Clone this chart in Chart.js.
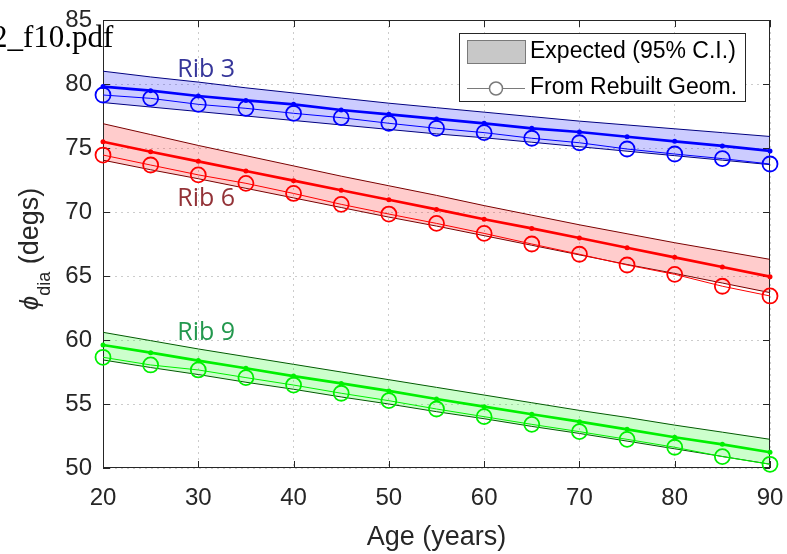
<!DOCTYPE html>
<html>
<head>
<meta charset="utf-8">
<script src="https://cdn.jsdelivr.net/npm/chart.js@4.4.1/dist/chart.umd.min.js"></script>
<style>
  html, body { margin: 0; padding: 0; background: #fff; }
  #wrap { position: relative; width: 787px; height: 554px; overflow: hidden; }
  #fname { position: absolute; left: -8px; top: 19px; font: 31px "Liberation Serif", "Times New Roman", serif; color: #000; white-space: nowrap; }
</style>
</head>
<body>
<div id="wrap">
  <canvas id="chart" width="787" height="554"></canvas>
  <div id="fname">2_f10.pdf</div>
</div>
<script>
// Age grid (years)
const ages = [20, 25, 30, 35, 40, 45, 50, 55, 60, 65, 70, 75, 80, 85, 90];

// Rib 3
const rib3Upper   = [81.0, 80.55, 80.15, 79.7, 79.3, 78.9, 78.5, 78.15, 77.8, 77.45, 77.1, 76.8, 76.5, 76.2, 75.9];
const rib3Lower   = [78.55, 78.2, 77.85, 77.5, 77.15, 76.8, 76.45, 76.1, 75.8, 75.45, 75.1, 74.75, 74.4, 74.05, 73.7];
const rib3Mean    = [79.8, 79.48, 79.06, 78.72, 78.41, 77.97, 77.63, 77.27, 76.93, 76.54, 76.25, 75.88, 75.52, 75.16, 74.77];
const rib3Rebuilt = [79.14, 78.88, 78.41, 78.1, 77.71, 77.37, 76.93, 76.54, 76.2, 75.76, 75.41, 74.92, 74.53, 74.17, 73.75];

// Rib 6
const rib6Upper   = [76.9, 76.05, 75.2, 74.4, 73.6, 72.8, 72.05, 71.3, 70.5, 69.75, 69.0, 68.3, 67.6, 66.95, 66.3];
const rib6Lower   = [74.05, 73.3, 72.6, 71.85, 71.1, 70.35, 69.6, 68.9, 68.15, 67.4, 66.65, 65.9, 65.2, 64.45, 63.7];
const rib6Mean    = [75.49, 74.71, 73.96, 73.2, 72.45, 71.7, 70.96, 70.2, 69.43, 68.72, 67.97, 67.21, 66.46, 65.7, 64.95];
const rib6Rebuilt = [74.45, 73.67, 72.9, 72.24, 71.45, 70.6, 69.84, 69.11, 68.33, 67.5, 66.7, 65.86, 65.13, 64.2, 63.44];

// Rib 9
const rib9Upper   = [60.6, 59.95, 59.3, 58.7, 58.1, 57.5, 56.9, 56.3, 55.7, 55.1, 54.5, 53.95, 53.35, 52.8, 52.24];
const rib9Lower   = [58.44, 57.85, 57.3, 56.7, 56.15, 55.55, 55.0, 54.4, 53.85, 53.25, 52.7, 52.1, 51.5, 50.9, 50.3];
const rib9Mean    = [59.61, 59.01, 58.39, 57.79, 57.18, 56.61, 56.02, 55.39, 54.79, 54.2, 53.62, 53.02, 52.4, 51.85, 51.23];
const rib9Rebuilt = [58.65, 58.05, 57.66, 57.06, 56.48, 55.84, 55.26, 54.61, 54.01, 53.41, 52.84, 52.24, 51.62, 50.89, 50.29];

const xTicks = [20, 30, 40, 50, 60, 70, 80, 90];
const yTicks = [50, 55, 60, 65, 70, 75, 80, 85];

// in-plot rib labels: [text, age, angle]
const ribLabels = [['Rib 3', 27.8, 80.57], ['Rib 6', 27.8, 70.47], ['Rib 9', 27.8, 60.0]];

const ribs = [
  { up: rib3Upper, lo: rib3Lower, mean: rib3Mean, reb: rib3Rebuilt, line: '#0000ff', edge: '#000080', fill: 'rgba(0,0,255,0.2)', text: '#36369a' },
  { up: rib6Upper, lo: rib6Lower, mean: rib6Mean, reb: rib6Rebuilt, line: '#ff0000', edge: '#7a0000', fill: 'rgba(255,0,0,0.2)', text: '#933237' },
  { up: rib9Upper, lo: rib9Lower, mean: rib9Mean, reb: rib9Rebuilt, line: '#00f000', edge: '#005a00', fill: 'rgba(0,255,0,0.2)', text: '#23984e' }
];

const pts = arr => arr.map((v, i) => ({ x: ages[i], y: v }));

const datasets = [];
ribs.forEach(r => {
  datasets.push({ data: pts(r.up), borderColor: r.edge, borderWidth: 1, backgroundColor: r.fill, fill: '+1', pointRadius: 0, order: 5 });
  datasets.push({ data: pts(r.lo), borderColor: r.edge, borderWidth: 1, fill: false, pointRadius: 0, order: 5 });
  datasets.push({ data: pts(r.mean), borderColor: r.line, borderWidth: 2.7, fill: false, pointRadius: 2.5, pointBackgroundColor: r.line, pointBorderWidth: 0, order: 1, clip: false });
  datasets.push({ data: pts(r.reb), borderColor: r.line, borderWidth: 1, fill: false, pointRadius: 7.5, pointBorderWidth: 1.8, pointBorderColor: r.line, pointBackgroundColor: 'rgba(0,0,0,0)', order: 2, clip: false });
});

const AXIS = '#262626';

// axes box with inward ticks
const boxPlugin = {
  id: 'box',
  beforeDatasetsDraw(chart) {
    const { ctx, chartArea: a, scales } = chart;
    ctx.save();
    ctx.strokeStyle = AXIS;
    ctx.lineWidth = 1;
    ctx.strokeRect(a.left + 0.5, a.top + 0.5, a.right - a.left - 1, a.bottom - a.top - 1);
    ctx.beginPath();
    xTicks.forEach(t => {
      const x = Math.round(scales.x.getPixelForValue(t)) + 0.5;
      ctx.moveTo(x, a.bottom); ctx.lineTo(x, a.bottom - 7);
      ctx.moveTo(x, a.top); ctx.lineTo(x, a.top + 7);
    });
    yTicks.forEach(t => {
      const y = Math.round(scales.y.getPixelForValue(t)) + 0.5;
      ctx.moveTo(a.left, y); ctx.lineTo(a.left + 7, y);
      ctx.moveTo(a.right, y); ctx.lineTo(a.right - 7, y);
    });
    ctx.stroke();
    ctx.restore();
  }
};

const annotPlugin = {
  id: 'annot',
  afterDraw(chart) {
    const { ctx, chartArea: a, scales } = chart;
    ctx.save();
    // rib labels
    ctx.font = '25px "Open Sans", "Noto Sans", sans-serif';
    ctx.textAlign = 'left';
    ctx.textBaseline = 'alphabetic';
    ribLabels.forEach((l, i) => {
      ctx.fillStyle = ribs[i].text;
      ctx.fillText(l[0], scales.x.getPixelForValue(l[1]), scales.y.getPixelForValue(l[2]));
    });

    // x title
    ctx.fillStyle = AXIS;
    ctx.font = '27px "Liberation Sans", Arial, sans-serif';
    ctx.textAlign = 'center';
    ctx.fillText('Age (years)', (a.left + a.right) / 2, 545);

    // y title with subscript
    const main = '27px "Liberation Sans", Arial, sans-serif';
    const sym = 'italic 26px "Liberation Sans", "DejaVu Sans", sans-serif';
    const sub = '18px "Liberation Sans", Arial, sans-serif';
    ctx.font = sym; const w1 = ctx.measureText('\u03D5').width;
    ctx.font = sub; const w2 = ctx.measureText('dia').width;
    ctx.font = main; const w3 = ctx.measureText(' (degs)').width;
    const total = w1 + w2 + w3;
    ctx.translate(38, 249 + total / 2);
    ctx.rotate(-Math.PI / 2);
    ctx.textAlign = 'left';
    ctx.font = sym; ctx.fillText('\u03D5', 0, 0);
    ctx.font = sub; ctx.fillText('dia', w1, 12);
    ctx.font = main; ctx.fillText(' (degs)', w1 + w2, 0);
    ctx.restore();

    // legend
    ctx.save();
    const lx = 459, ly = 33, lw = 286, lh = 68;
    ctx.fillStyle = '#fff';
    ctx.fillRect(lx, ly, lw, lh);
    ctx.strokeStyle = AXIS;
    ctx.lineWidth = 1;
    ctx.strokeRect(lx + 0.5, ly + 0.5, lw, lh);
    ctx.fillStyle = '#c8c8c8';
    ctx.fillRect(467, 40, 58, 23);
    ctx.strokeStyle = '#7a7a7a';
    ctx.strokeRect(467.5, 40.5, 58, 23);
    ctx.beginPath();
    ctx.moveTo(467, 88.5); ctx.lineTo(525, 88.5);
    ctx.stroke();
    ctx.beginPath();
    ctx.arc(496, 88.5, 6.5, 0, Math.PI * 2);
    ctx.fillStyle = '#fff';
    ctx.fill();
    ctx.lineWidth = 1.5;
    ctx.stroke();
    ctx.fillStyle = '#000';
    ctx.font = '23px "Liberation Sans", Arial, sans-serif';
    ctx.textAlign = 'left';
    ctx.textBaseline = 'middle';
    ctx.fillText('Expected (95% C.I.)', 530, 52);
    ctx.fillText('From Rebuilt Geom.', 530, 88);
    ctx.restore();
  }
};

new Chart(document.getElementById('chart'), {
  type: 'line',
  data: { datasets },
  options: {
    responsive: false,
    animation: false,
    layout: { padding: { left: 0, right: 17, top: 20, bottom: 0 } },
    plugins: {
      legend: { display: false },
      tooltip: { enabled: false },
      filler: { drawTime: 'beforeDatasetsDraw' }
    },
    elements: { line: { tension: 0 } },
    scales: {
      x: {
        type: 'linear',
        min: 20, max: 90,
        afterBuildTicks: s => { s.ticks = xTicks.map(v => ({ value: v })); },
        afterFit: s => { s.height = 86; s.paddingLeft = 0; s.paddingRight = 0; },
        grid: { color: 'rgba(0,0,0,0.2)', drawTicks: false },
        border: { display: false, dash: [2, 4] },
        ticks: { color: AXIS, padding: 16, maxRotation: 0, font: { size: 24, family: '"Liberation Sans", Arial, sans-serif' } }
      },
      y: {
        min: 50, max: 85,
        afterBuildTicks: s => { s.ticks = yTicks.map(v => ({ value: v })); },
        afterFit: s => { s.width = 103; s.paddingTop = 0; s.paddingBottom = 0; },
        grid: { color: 'rgba(0,0,0,0.2)', drawTicks: false },
        border: { display: false, dash: [2, 4] },
        ticks: { color: AXIS, padding: 11, font: { size: 24, family: '"Liberation Sans", Arial, sans-serif' } }
      }
    }
  },
  plugins: [boxPlugin, annotPlugin]
});
</script>
</body>
</html>
